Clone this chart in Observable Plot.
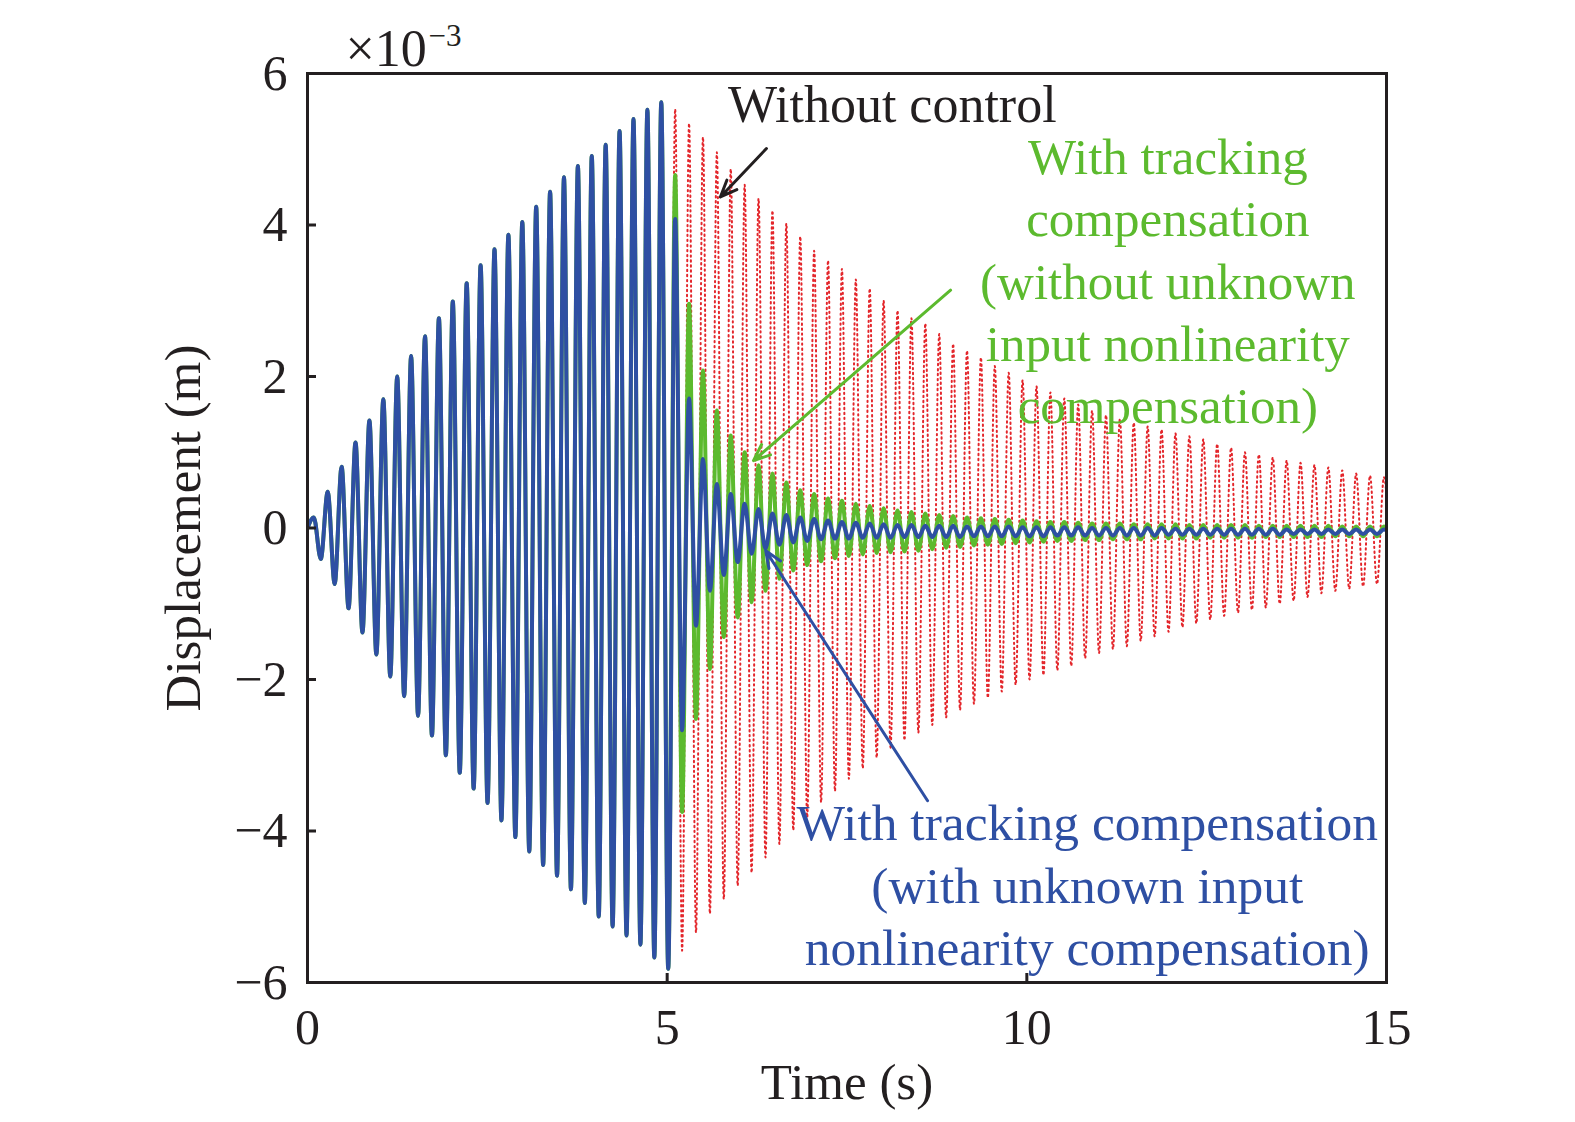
<!DOCTYPE html>
<html>
<head>
<meta charset="utf-8">
<script src="https://cdn.jsdelivr.net/npm/d3@7"></script>
<script src="https://cdn.jsdelivr.net/npm/@observablehq/plot@0.6"></script>
<style>
  html, body { margin: 0; padding: 0; background: #fff; }
  #chart { width: 1575px; height: 1122px; }
</style>
</head>
<body>
<div id="chart"></div>
<script>
// ---- Data (displacement in units of 1e-3 m) ----
// Oscillation extrema: first peak at t0, peaks and troughs alternate every halfPeriod (measured).
const extremaT0 = 0.088;
const halfPeriod = 0.0966;

// Common response before control starts (t < 5 s): peaks and troughs
const prePeaks = [0.14,0.48,0.81,1.13,1.42,1.70,2.00,2.27,2.53,2.77,2.99,3.23,3.47,3.68,3.87,4.04,4.24,4.44,4.63,4.78,4.91,5.06,5.24,5.40,5.52,5.62];
const preTroughs = [-0.41,-0.74,-1.06,-1.38,-1.67,-1.96,-2.22,-2.48,-2.74,-3.00,-3.23,-3.44,-3.63,-3.86,-4.08,-4.27,-4.45,-4.59,-4.77,-4.95,-5.13,-5.26,-5.38,-5.50,-5.67,-5.82];

// Without control (after 5 s)
const redPeaks = [5.53,5.34,5.16,4.96,4.74,4.53,4.35,4.19,4.02,3.85,3.66,3.53,3.42,3.28,3.16,3.00,2.87,2.77,2.70,2.56,2.43,2.34,2.25,2.14,2.05,1.95,1.87,1.79,1.71,1.63,1.55,1.49,1.44,1.39,1.34,1.30,1.25,1.21,1.17,1.11,1.06,1.00,0.97,0.93,0.89,0.86,0.83,0.80,0.76,0.72,0.69,0.67];
const redTroughs = [-5.58,-5.34,-5.09,-4.90,-4.72,-4.55,-4.35,-4.17,-3.99,-3.82,-3.62,-3.47,-3.31,-3.17,-3.03,-2.90,-2.80,-2.70,-2.60,-2.50,-2.40,-2.32,-2.24,-2.16,-2.07,-2.00,-1.94,-1.88,-1.82,-1.72,-1.65,-1.60,-1.56,-1.49,-1.43,-1.37,-1.31,-1.26,-1.21,-1.16,-1.12,-1.08,-1.05,-1.00,-0.96,-0.91,-0.86,-0.83,-0.80,-0.77,-0.74,-0.72];

// With tracking compensation (without unknown input nonlinearity compensation)
const greenPeaks = [4.66,2.96,2.08,1.55,1.22,1.00,0.83,0.72,0.60,0.50,0.45,0.39,0.36,0.32,0.29,0.26,0.23,0.21,0.19,0.17,0.16,0.14,0.13,0.12,0.11,0.10,0.09,0.08,0.08,0.07,0.06,0.06,0.06,0.05,0.05,0.05,0.05,0.04,0.04,0.04,0.04,0.04,0.03,0.03,0.03,0.03,0.03,0.03,0.02,0.02,0.02,0.02];
const greenTroughs = [-3.75,-2.52,-1.86,-1.44,-1.18,-0.98,-0.83,-0.67,-0.56,-0.49,-0.44,-0.40,-0.37,-0.35,-0.33,-0.32,-0.31,-0.30,-0.28,-0.26,-0.25,-0.23,-0.22,-0.21,-0.20,-0.19,-0.18,-0.17,-0.17,-0.16,-0.16,-0.15,-0.15,-0.15,-0.14,-0.14,-0.14,-0.14,-0.13,-0.13,-0.13,-0.13,-0.12,-0.12,-0.12,-0.12,-0.12,-0.11,-0.11,-0.11,-0.11,-0.11];

// With tracking compensation (with unknown input nonlinearity compensation)
const bluePeaks = [4.08,1.71,0.91,0.58,0.45,0.32,0.25,0.19,0.17,0.14,0.12,0.10,0.08,0.07,0.06,0.05,0.04,0.04,0.03,0.03,0.03,0.02,0.02,0.02,0.02,0.01,0.01,0.01,0.01,0.01,0.00,0.00,0.00,0.00,0.00,0.00,-0.01,-0.01,-0.01,-0.01,-0.01,-0.01,-0.01,-0.01,-0.02,-0.02,-0.02,-0.02,-0.02,-0.02,-0.02,-0.02];
const blueTroughs = [-2.67,-1.29,-0.83,-0.62,-0.45,-0.34,-0.27,-0.22,-0.19,-0.17,-0.15,-0.14,-0.14,-0.13,-0.13,-0.13,-0.12,-0.12,-0.12,-0.12,-0.12,-0.11,-0.11,-0.11,-0.11,-0.11,-0.11,-0.10,-0.10,-0.10,-0.10,-0.10,-0.10,-0.10,-0.10,-0.09,-0.09,-0.09,-0.09,-0.09,-0.09,-0.09,-0.09,-0.09,-0.08,-0.08,-0.08,-0.08,-0.08,-0.08,-0.08,-0.08];

const xTicks = [0, 5, 10, 15];
const yTicks = [-6, -4, -2, 0, 2, 4, 6];

// Annotations (data coordinates)
const labelWithout = [{t: 8.13, v: 5.58, text: "Without control"}];
const labelGreen = [{t: 11.96, v: 3.29, text: "With tracking\ncompensation\n(without unknown\ninput nonlinearity\ncompensation)"}];
const labelBlue = [{t: 10.84, v: -4.68, text: "With tracking compensation\n(with unknown input\nnonlinearity compensation)"}];
const arrowsData = [
  {t1: 6.38, v1: 5.01, t2: 5.74, v2: 4.37, c: "#231f20"},
  {t1: 8.94, v1: 3.14, t2: 6.20, v2: 0.89, c: "#5cba2e"},
  {t1: 8.62, v1: -3.60, t2: 6.37, v2: -0.30, c: "#2e4fa3"}
];

// ---- Build series from extrema ----
function buildSeries(peaksAfter, troughsAfter) {
  const peaks = prePeaks.concat(peaksAfter);
  const troughs = preTroughs.concat(troughsAfter);
  const pts = [{t: 0, v: 0}];
  for (let k = 0; k < peaks.length; k++) {
    pts.push({t: extremaT0 + 2 * k * halfPeriod, v: peaks[k]});
    if (k < troughs.length) pts.push({t: extremaT0 + (2 * k + 1) * halfPeriod, v: troughs[k]});
  }
  return pts;
}
const red = buildSeries(redPeaks, redTroughs);
const green = buildSeries(greenPeaks, greenTroughs);
const blue = buildSeries(bluePeaks, blueTroughs);

const minus = d => d < 0 ? "\u2212" + Math.abs(d) : String(d);

const chart = Plot.plot({
  width: 1575,
  height: 1122,
  marginLeft: 307,
  marginRight: 189,
  marginTop: 73,
  marginBottom: 140,
  style: {fontFamily: "'Liberation Serif', 'Times New Roman', serif", fontSize: "50px", background: "#fff", color: "#231f20"},
  x: {domain: [0, 15], ticks: xTicks, tickFormat: minus},
  y: {domain: [-6, 6], ticks: yTicks, tickFormat: minus},
  marks: [
    Plot.line(red, {x: "t", y: "v", stroke: "#e3262b", strokeWidth: 2, strokeDasharray: "1.4,3.6", curve: "monotone-x", clip: true}),
    Plot.line(green, {x: "t", y: "v", stroke: "#5cba2e", strokeWidth: 4, curve: "monotone-x", clip: true}),
    Plot.line(blue, {x: "t", y: "v", stroke: "#2e4fa3", strokeWidth: 4, curve: "monotone-x", clip: true}),
    Plot.frame({stroke: "#231f20", strokeWidth: 3}),
    Plot.axisX({ticks: xTicks, tickFormat: minus, tickSize: -9, tickPadding: 35, strokeWidth: 3, label: null, fontSize: 50}),
    Plot.axisY({ticks: yTicks, tickFormat: minus, tickSize: -9, tickPadding: 29, strokeWidth: 3, label: null, fontSize: 50}),
    Plot.text(["Time (s)"], {frameAnchor: "bottom", lineAnchor: "middle", textAnchor: "middle", dy: 100, fontSize: 51, fill: "#231f20"}),
    Plot.text(["Displacement (m)"], {frameAnchor: "left", lineAnchor: "middle", textAnchor: "middle", dx: -124, rotate: -90, fontSize: 51, fill: "#231f20"}),
    Plot.text(["\u00d710"], {frameAnchor: "top-left", textAnchor: "start", lineAnchor: "bottom", dx: 38, dy: -8, fontSize: 52, fill: "#231f20"}),
    Plot.text(["\u22123"], {frameAnchor: "top-left", textAnchor: "start", lineAnchor: "bottom", dx: 121, dy: -28, fontSize: 31, fill: "#231f20"}),
    Plot.arrow(arrowsData, {x1: "t1", y1: "v1", x2: "t2", y2: "v2", stroke: "c", strokeWidth: 3, headLength: 9, headAngle: 45}),
    Plot.text(labelWithout, {x: "t", y: "v", text: "text", fontSize: 52, fill: "#231f20"}),
    Plot.text(labelGreen, {x: "t", y: "v", text: "text", fontSize: 51, lineHeight: 1.22, fill: "#5cba2e"}),
    Plot.text(labelBlue, {x: "t", y: "v", text: "text", fontSize: 51.5, lineHeight: 1.22, fill: "#2e4fa3"})
  ]
});
document.getElementById("chart").appendChild(chart);
</script>
</body>
</html>
